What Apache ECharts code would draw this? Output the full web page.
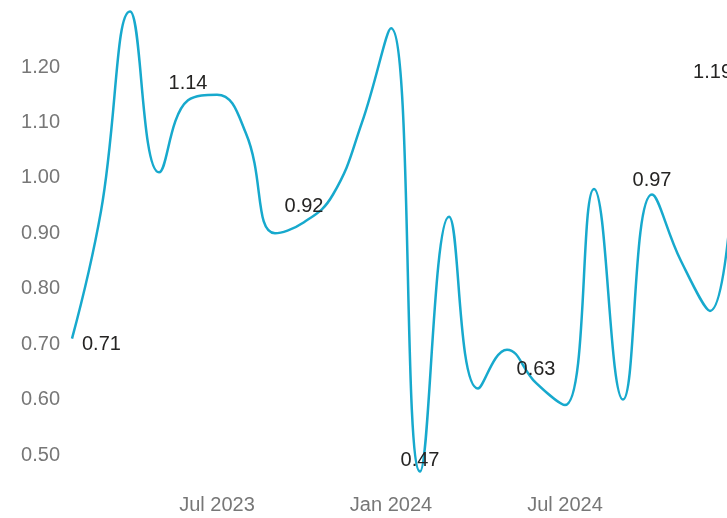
<!DOCTYPE html>
<html>
<head>
<meta charset="utf-8">
<script src="https://cdn.jsdelivr.net/npm/echarts@6/dist/echarts.min.js"></script>
<style>
html,body{margin:0;padding:0;background:#fff;overflow:hidden;}
#chart{width:740px;height:518px;}
</style>
</head>
<body>
<div id="chart"></div>
<script>
// ---- data ----
const months = [
  'Feb 2023','Mar 2023','Apr 2023','May 2023','Jun 2023','Jul 2023','Aug 2023','Sep 2023',
  'Oct 2023','Nov 2023','Dec 2023','Jan 2024','Feb 2024','Mar 2024','Apr 2024','May 2024',
  'Jun 2024','Jul 2024','Aug 2024','Sep 2024','Oct 2024','Nov 2024','Dec 2024','Jan 2025'
];
const values = [
  0.71, 0.94, 1.30, 1.01, 1.14, 1.15, 1.08, 0.90,
  0.92, 0.97, 1.10, 1.27, 0.47, 0.93, 0.62, 0.69,
  0.63, 0.59, 0.98, 0.60, 0.97, 0.85, 0.76, 1.19
];
const xTickLabels = ['Jul 2023', 'Jan 2024', 'Jul 2024'];
const yTickLabels = ['0.50','0.60','0.70','0.80','0.90','1.00','1.10','1.20'];
const labelledMonths = ['Feb 2023','Jun 2023','Oct 2023','Feb 2024','Jun 2024','Oct 2024','Jan 2025'];

// ---- styles ----
const FONT = 'Liberation Sans, Arial, sans-serif';
const labelStyleFor = {
  'Feb 2023': { position: [11, -3], align: 'left', verticalAlign: 'top' },
  'Jun 2023': { position: 'top', distance: 6 },
  'Oct 2023': { position: 'top', distance: 5 },
  'Feb 2024': { position: 'top', distance: 0 },
  'Jun 2024': { position: 'top', distance: 2 },
  'Oct 2024': { position: 'top', distance: 3 },
  'Jan 2025': { position: 'left', distance: 6, offset: [0, 2] }
};

const seriesData = values.map((v, i) => {
  const m = months[i];
  if (labelledMonths.indexOf(m) < 0) return { value: v, label: { show: false } };
  const extra = labelStyleFor[m] || { position: 'top', distance: 4 };
  return {
    value: v,
    label: Object.assign({
      show: true,
      formatter: (p) => Number(p.value).toFixed(2),
      color: '#252423',
      fontSize: 20,
      fontFamily: FONT
    }, extra)
  };
});

const chart = echarts.init(document.getElementById('chart'), null, { renderer: 'canvas' });
chart.setOption({
  animation: false,
  backgroundColor: '#ffffff',
  grid: { left: 72, right: 1, top: 11.6, bottom: 35.3, containLabel: false },
  xAxis: {
    type: 'category',
    data: months,
    boundaryGap: false,
    axisLine: { show: false },
    axisTick: { show: false },
    splitLine: { show: false },
    axisLabel: {
      interval: (i, v) => xTickLabels.indexOf(v) >= 0,
      color: '#777777',
      fontSize: 20,
      fontFamily: FONT,
      margin: 13,
      hideOverlap: false
    }
  },
  yAxis: {
    type: 'value',
    min: 0.45,
    max: 1.30,
    interval: 0.05,
    axisLine: { show: false },
    axisTick: { show: false },
    splitLine: { show: false },
    axisLabel: {
      color: '#777777',
      fontSize: 20,
      fontFamily: FONT,
      margin: 12,
      showMinLabel: true,
      showMaxLabel: true,
      formatter: (v) => {
        const s = v.toFixed(2);
        return yTickLabels.indexOf(s) >= 0 ? s : '';
      }
    }
  },
  series: [{
    type: 'line',
    data: seriesData,
    smooth: 0.45,
    clip: false,
    showSymbol: true,
    showAllSymbol: true,
    symbol: 'circle',
    symbolSize: 2,
    itemStyle: { color: 'rgba(23,169,205,0)', borderWidth: 0 },
    lineStyle: { color: '#17A9CD', width: 2.5 },
    label: { show: false },
    labelLayout: { hideOverlap: false }
  }]
});
</script>
</body>
</html>
